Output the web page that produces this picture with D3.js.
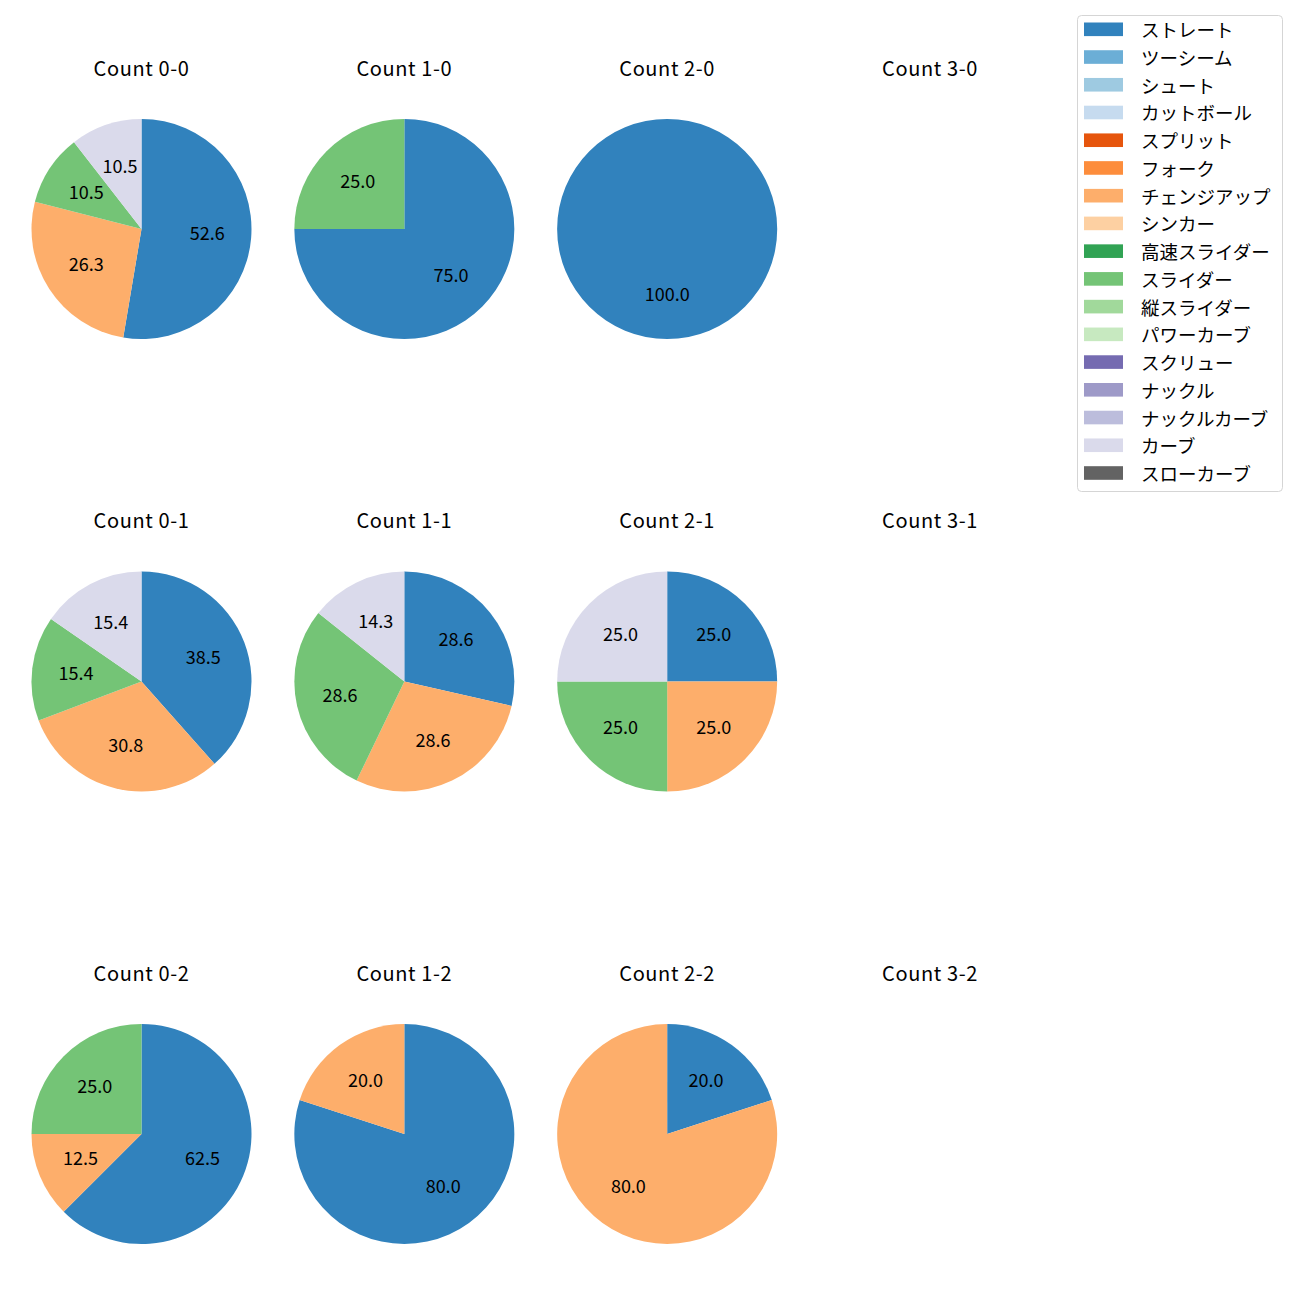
<!DOCTYPE html>
<html>
<head>
<meta charset="utf-8">
<script src="https://cdn.jsdelivr.net/npm/d3@7"></script>
<style>
  body { margin: 0; background: #fff; }
  svg { display: block; font-family: "Noto Sans CJK JP", "Noto Sans", sans-serif; }
</style>
</head>
<body>
<svg id="chart" width="1300" height="1300"></svg>
<script>
// Pitch types (legend order) and colours
const pitchTypes = ["ストレート","ツーシーム","シュート","カットボール","スプリット","フォーク","チェンジアップ","シンカー","高速スライダー","スライダー","縦スライダー","パワーカーブ","スクリュー","ナックル","ナックルカーブ","カーブ","スローカーブ"];
const pitchColors = ["#3182bd","#6baed6","#9ecae1","#c6dbef","#e6550d","#fd8d3c","#fdae6b","#fdd0a2","#31a354","#74c476","#a1d99b","#c7e9c0","#756bb1","#9e9ac8","#bcbddc","#dadaeb","#636363"];

// Grid layout: column = balls, row = strikes
const balls = [0, 1, 2, 3];
const strikes = [0, 1, 2];

// Percentages per count (pitch type, percent)
const count00 = [["ストレート",52.6],["チェンジアップ",26.3],["スライダー",10.5],["カーブ",10.5]];
const count10 = [["ストレート",75.0],["スライダー",25.0]];
const count20 = [["ストレート",100.0]];
const count30 = [];
const count01 = [["ストレート",38.5],["チェンジアップ",30.8],["スライダー",15.4],["カーブ",15.4]];
const count11 = [["ストレート",28.6],["チェンジアップ",28.6],["スライダー",28.6],["カーブ",14.3]];
const count21 = [["ストレート",25.0],["チェンジアップ",25.0],["スライダー",25.0],["カーブ",25.0]];
const count31 = [];
const count02 = [["ストレート",62.5],["チェンジアップ",12.5],["スライダー",25.0]];
const count12 = [["ストレート",80.0],["チェンジアップ",20.0]];
const count22 = [["ストレート",20.0],["チェンジアップ",80.0]];
const count32 = [];

const countData = {
  "0-0": count00, "1-0": count10, "2-0": count20, "3-0": count30,
  "0-1": count01, "1-1": count11, "2-1": count21, "3-1": count31,
  "0-2": count02, "1-2": count12, "2-2": count22, "3-2": count32
};

const svg = d3.select("#chart");
const color = d3.scaleOrdinal().domain(pitchTypes).range(pitchColors);

const xCenter = d3.scalePoint().domain(balls).range([141.5, 930]);
const yCenter = d3.scalePoint().domain(strikes).range([229, 1134]);
const R = 110;

const pie = d3.pie().sort(null).value(d => d[1]).startAngle(0).endAngle(2 * Math.PI);
const arc = d3.arc().innerRadius(0).outerRadius(R);
const labelArc = d3.arc().innerRadius(R * 0.6).outerRadius(R * 0.6);

strikes.forEach(s => {
  balls.forEach(b => {
    const key = `${b}-${s}`;
    const cx = xCenter(b), cy = yCenter(s);
    const g = svg.append("g").attr("transform", `translate(${cx},${cy})`);
    g.append("text")
      .attr("x", 0).attr("y", -R - 52)
      .attr("text-anchor", "middle")
      .attr("dominant-baseline", "central")
      .attr("font-size", 20)
      .attr("letter-spacing", 0.6)
      .attr("fill", "#000")
      .text(`Count ${key}`);
    const data = countData[key];
    if (!data.length) return;
    const arcs = pie(data);
    g.selectAll("path.slice").data(arcs).enter().append("path")
      .attr("class", "slice")
      .attr("d", arc)
      .attr("fill", d => color(d.data[0]));
    g.selectAll("text.lbl").data(arcs).enter().append("text")
      .attr("class", "lbl")
      .attr("transform", d => `translate(${labelArc.centroid(d)})`)
      .attr("dy", -2)
      .attr("text-anchor", "middle")
      .attr("dominant-baseline", "central")
      .attr("font-size", 18)
      .attr("fill", "#000")
      .text(d => d.data[1].toFixed(1));
  });
});

// Legend
const legend = svg.append("g");
legend.append("rect")
  .attr("x", 1077.5).attr("y", 15.5).attr("width", 205).attr("height", 476)
  .attr("rx", 4).attr("ry", 4)
  .attr("fill", "#fff").attr("stroke", "#d5d5d5").attr("stroke-width", 1);
const ly = d3.scaleLinear().domain([0, pitchTypes.length - 1]).range([29.3, 473]);
pitchTypes.forEach((p, i) => {
  legend.append("rect")
    .attr("x", 1084).attr("y", ly(i) - 6.8).attr("width", 39).attr("height", 13.6)
    .attr("fill", color(p));
  legend.append("text")
    .attr("x", 1141).attr("y", ly(i))
    .attr("dominant-baseline", "central")
    .attr("font-size", 18.5)
    .attr("fill", "#000")
    .text(p);
});
</script>
</body>
</html>
